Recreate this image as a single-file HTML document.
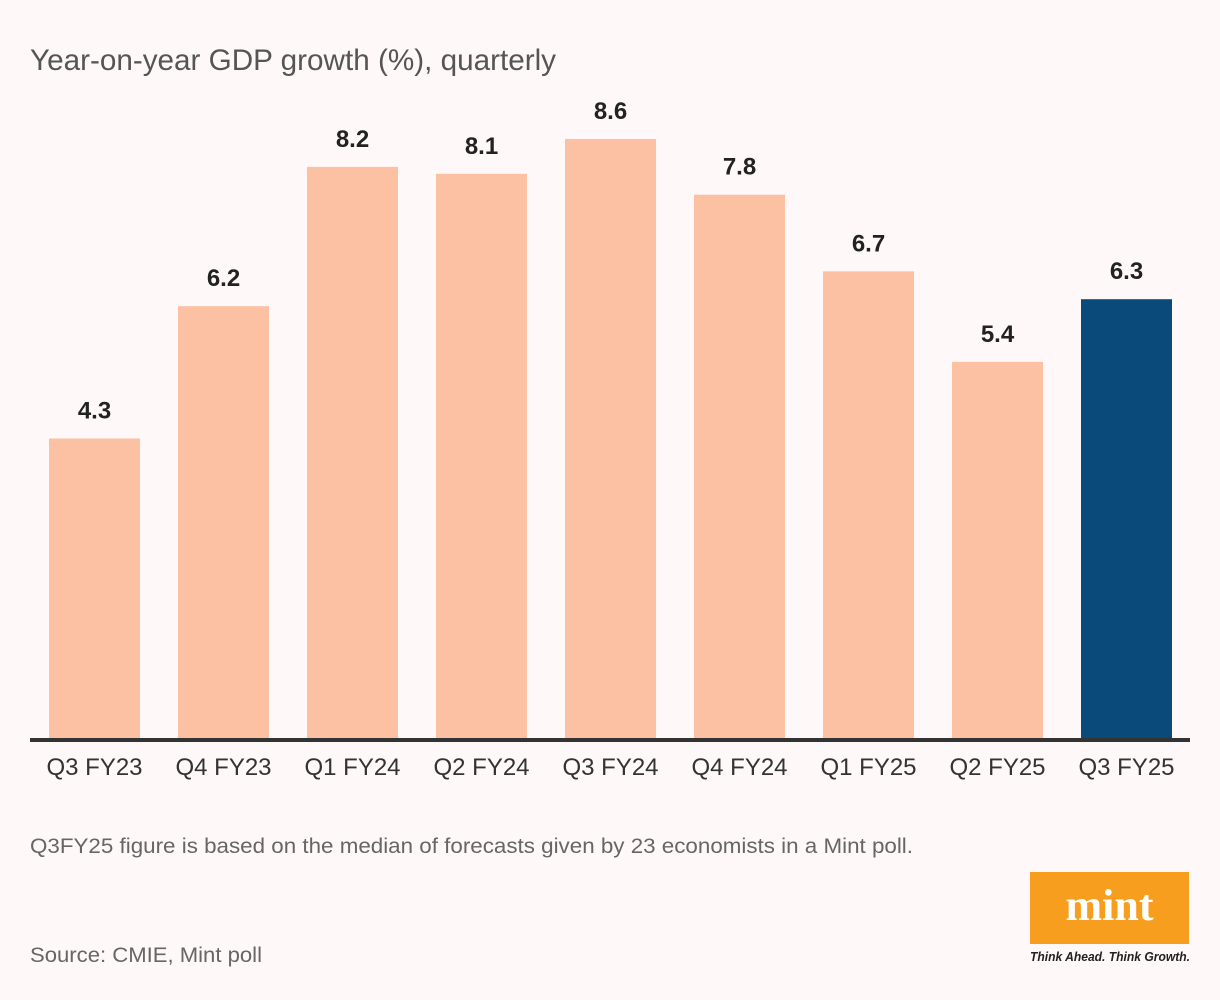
<!DOCTYPE html>
<html><head><meta charset="utf-8"><style>
html,body{margin:0;padding:0;background:#fff8f8;}
svg{display:block;font-family:"Liberation Sans",sans-serif;}
</style></head><body>
<svg id="chart" width="1220" height="1000" viewBox="0 0 1220 1000">
<rect width="1220" height="1000" fill="#fff8f8"/>
<text x="30" y="70" font-size="30" fill="#555" textLength="526" lengthAdjust="spacingAndGlyphs">Year-on-year GDP growth (%), quarterly</text>
<g id="bars"></g>
<g id="vlabels"></g>
<g id="xlabels"></g>
<rect x="30" y="738" width="1160" height="4" fill="#333"/>
<text x="30" y="853" font-size="21" fill="#666" textLength="883" lengthAdjust="spacingAndGlyphs">Q3FY25 figure is based on the median of forecasts given by 23 economists in a Mint poll.</text>
<text x="30" y="962" font-size="21" fill="#666" textLength="232" lengthAdjust="spacingAndGlyphs">Source: CMIE, Mint poll</text>
<g>
<rect x="1030" y="872" width="159" height="72" fill="#f89e1e"/>
<text x="1109.5" y="920" text-anchor="middle" font-family="Liberation Serif,serif" font-weight="bold" font-size="44" fill="#fff">mint</text>
<text x="1030" y="961" font-size="13" font-style="italic" font-weight="bold" fill="#222" textLength="160" lengthAdjust="spacingAndGlyphs">Think Ahead. Think Growth.</text>
</g>
</svg>
<script>
const categories=["Q3 FY23","Q4 FY23","Q1 FY24","Q2 FY24","Q3 FY24","Q4 FY24","Q1 FY25","Q2 FY25","Q3 FY25"];
const values=[4.3,6.2,8.2,8.1,8.6,7.8,6.7,5.4,6.3];
const valueLabels=["4.3","6.2","8.2","8.1","8.6","7.8","6.7","5.4","6.3"];
const highlightIndex=8;
const NS="http://www.w3.org/2000/svg";
const baseY=738, pxPerUnit=69.65, x0=49, step=129, bw=91;
const yScale=v=>baseY-v*pxPerUnit;
const xScale=i=>x0+i*step;
const gb=document.getElementById('bars'),gv=document.getElementById('vlabels'),gx=document.getElementById('xlabels');
values.forEach((v,i)=>{
  const r=document.createElementNS(NS,'rect');
  r.setAttribute('x',xScale(i));r.setAttribute('y',yScale(v));
  r.setAttribute('width',bw);r.setAttribute('height',baseY-yScale(v));
  r.setAttribute('fill',i===highlightIndex?'#0a4a7a':'#fbc1a2');
  
  
  gb.appendChild(r);
  const t=document.createElementNS(NS,'text');
  t.setAttribute('x',xScale(i)+bw/2);t.setAttribute('y',yScale(v)-20);
  t.setAttribute('text-anchor','middle');t.setAttribute('font-size','24');
  t.setAttribute('font-weight','bold');t.setAttribute('fill','#222');
  t.textContent=valueLabels[i];
  
  
  gv.appendChild(t);
  const c=document.createElementNS(NS,'text');
  c.setAttribute('x',xScale(i)+bw/2);c.setAttribute('y',775);
  c.setAttribute('text-anchor','middle');c.setAttribute('font-size','24');
  c.setAttribute('fill','#333');
  c.setAttribute('textLength','96');c.setAttribute('lengthAdjust','spacingAndGlyphs');
  c.textContent=categories[i];
  
  
  gx.appendChild(c);
});
</script>
</body></html>
